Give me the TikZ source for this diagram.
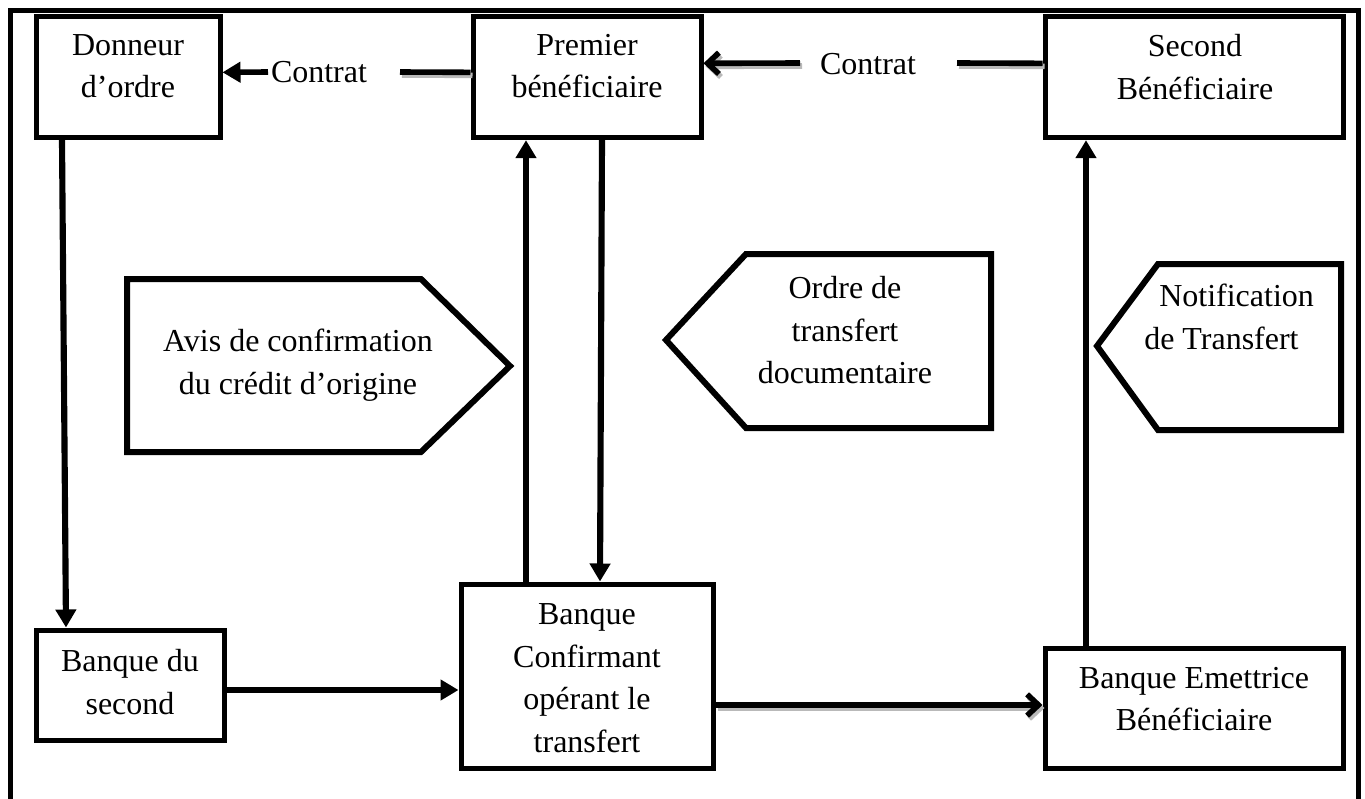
\documentclass[tikz,border=0pt]{standalone}
\usepackage{fontspec}
\setmainfont{Liberation Serif}
\usetikzlibrary{arrows.meta,calc}

\begin{document}
\begin{tikzpicture}[x=0.75pt,y=-0.75pt,
  box/.style={draw, rectangle, line width=3.75pt, inner sep=0pt},
  tag/.style={draw, line width=4.5pt, line join=miter},
  lbl/.style={font=\fontsize{24pt}{31.9pt}\selectfont, align=center, inner sep=0pt, anchor=north},
  word/.style={font=\fontsize{24pt}{31.9pt}\selectfont, inner sep=0pt, anchor=base},
  flow/.style={line width=4.6pt, -{Triangle[length=13.5pt,width=15pt]}},
  openflow/.style={line width=4.2pt, -{Straight Barb[length=8.5pt,width=16pt]}},
  plain/.style={line width=4.2pt},
  shade/.style={draw=gray!55, transform canvas={shift={(1.5pt,-2.25pt)}}}
]
\useasboundingbox (0,0) rectangle (1365,799);

% outer frame, open at the bottom
\draw[line width=3.75pt, line join=miter] (10,805) -- (10,11) -- (1358,11) -- (1358,805);

% boxes
\node[box, minimum width=138pt,   minimum height=91pt]  (donneur)    at (128,77)   {};
\node[box, minimum width=171pt,   minimum height=91pt]  (premier)    at (587,77)   {};
\node[box, minimum width=223.5pt, minimum height=91pt]  (second)     at (1194,77)  {};
\node[box, minimum width=141pt,   minimum height=82.5pt] (bds)       at (130,685)  {};
\node[box, minimum width=189pt,   minimum height=138pt] (confirmant) at (587,676)  {};
\node[box, minimum width=223.5pt, minimum height=90pt]  (emettrice)  at (1194,708) {};

% box texts
\node[lbl] (tdonneur)    at (128,34)  {Donneur\\d’ordre};
\node[lbl] (tpremier)    at (587,34)  {Premier\\bénéficiaire};
\node[lbl] (tsecond)     at (1195,34) {Second\\Bénéficiaire};
\node[lbl] (tbds)        at (130,649) {Banque du\\second};
\node[lbl] (tconfirmant) at (587,603.5) {Banque\\Confirmant\\opérant le\\transfert};
\node[lbl] (temettrice)  at (1194,667) {Banque Emettrice\\Bénéficiaire};

% pointer shapes
\draw[tag] (127,279) -- (421,279) -- (510,366) -- (421,452) -- (127,452) -- cycle;
\node[lbl] (tavis) at (298,329) {Avis de confirmation\\du crédit d’origine};
\draw[tag] (666,340) -- (746,254) -- (991,254) -- (991,428) -- (746,428) -- cycle;
\node[lbl] (tordre) at (845,276) {Ordre de\\transfert\\documentaire};
\draw[tag] (1097,346) -- (1158,264) -- (1341,264) -- (1341,430) -- (1158,430) -- cycle;
\node[lbl, align=left, anchor=north west] (tnotif) at (1144,284) {\hspace*{11.25pt}Notification\\de Transfert};

% vertical flows
\draw[flow] ($(donneur.south west)+(28.5,0)$) -- ($(bds.north west)+(32.5,0)$);
\draw[flow] ($(confirmant.north west)+(67.5,0)$) -- ($(premier.south west)+(55.5,0)$);
\draw[flow] ($(premier.south west)+(131.5,0)$) -- ($(confirmant.north west)+(141.5,0)$);
\draw[flow] ($(emettrice.north west)+(43.5,0)$) -- ($(second.south west)+(43.5,0)$);

% horizontal flows along the bottom
\draw[flow] ($(bds.north east)+(0,62.5)$) -- ($(confirmant.north west)+(0,108.5)$);
\draw[openflow, shade] ($(confirmant.north east)+(0,123.5)$) -- ($(emettrice.north west)+(0,59.5)$);
\draw[openflow] ($(confirmant.north east)+(0,123.5)$) -- ($(emettrice.north west)+(0,59.5)$);

% contract between the first beneficiary and the ordering party
\coordinate (c1r) at (400,72);
\coordinate (c1l) at (268,72);
\draw[plain, shade] ($(premier.north west)+(0,58.5)$) -- (c1r);
\draw[plain] ($(premier.north west)+(0,58.5)$) -- (c1r);
\draw[flow, line width=4.2pt] (c1l) -- ($(donneur.north east)+(0,58.5)$);
\node[word] (contrat1) at (319,83) {Contrat};

% contract between the second and the first beneficiary
\coordinate (c2r) at (957,63);
\coordinate (c2l) at (800,63);
\draw[plain, shade] ($(second.north west)+(0,49.5)$) -- (c2r);
\draw[plain] ($(second.north west)+(0,49.5)$) -- (c2r);
\draw[openflow, shade] (c2l) -- ($(premier.north east)+(0,49.5)$);
\draw[openflow] (c2l) -- ($(premier.north east)+(0,49.5)$);
\node[word] (contrat2) at (868,75) {Contrat};
\end{tikzpicture}
\end{document}
